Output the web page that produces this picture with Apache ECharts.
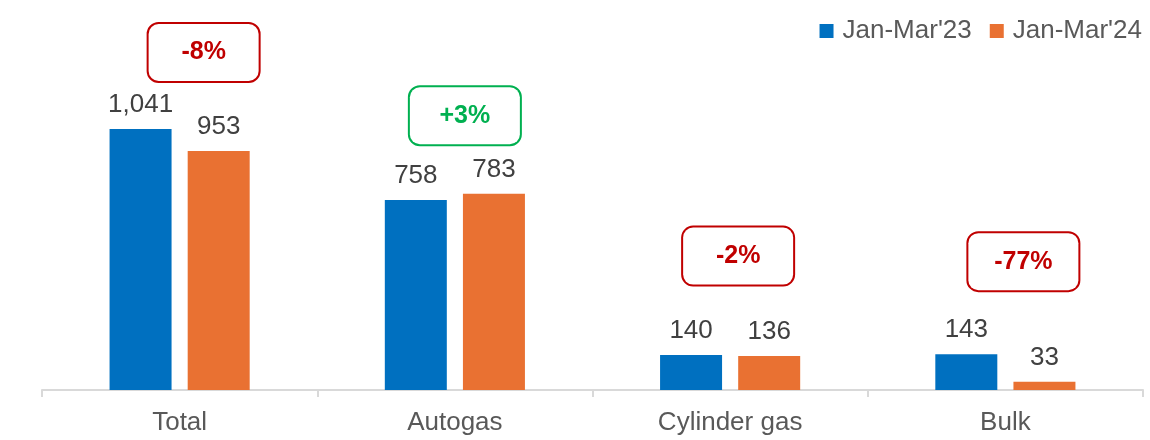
<!DOCTYPE html>
<html>
<head>
<meta charset="utf-8">
<script src="https://cdn.jsdelivr.net/npm/echarts@6/dist/echarts.min.js"></script>
<style>
  html, body { margin: 0; padding: 0; background: #fff; }
  #showChart { width: 1150px; height: 440px; }
</style>
</head>
<body>
<div id="showChart"></div>
<script>
// volumes by segment
var categories = ['Total', 'Autogas', 'Cylinder gas', 'Bulk'];
var jm23 = [1041, 758, 140, 143];
var jm24 = [953, 783, 136, 33];
var changeText = ['-8%', '+3%', '-2%', '-77%'];
var changeUp = [false, true, false, false];

var FONT = '"Liberation Sans", Arial, sans-serif';
var RED = '#C00000';
var GREEN = '#00B050';

// where the change boxes sit (value level, horizontal nudge)
var boxLevel = [1346, 1094, 534, 512];
var boxShift = [24, 10, 8, 18];

function fmt(v) {
    return v.toLocaleString('en-US');
}

var boxData = [];
for (var i = 0; i < categories.length; i++) {
    var c = changeUp[i] ? GREEN : RED;
    boxData.push({
        value: [i, boxLevel[i]],
        label: {
            offset: [boxShift[i], 0],
            color: c,
            borderColor: c
        }
    });
}

var option = {
    animation: false,
    textStyle: { fontFamily: FONT },
    legend: {
        data: ["Jan-Mar'23", "Jan-Mar'24"],
        right: 3,
        top: 13,
        itemWidth: 14,
        itemHeight: 14,
        itemGap: 18,
        icon: 'rect',
        textStyle: { fontSize: 26, color: '#595959', fontFamily: FONT, padding: [0, 0, 0, 4] }
    },
    grid: { left: 42, right: 7, top: 39, bottom: 50 },
    xAxis: {
        type: 'category',
        data: categories,
        axisLine: { lineStyle: { color: '#d9d9d9', width: 2 } },
        axisTick: { show: true, length: 7, lineStyle: { color: '#d9d9d9', width: 2 } },
        axisLabel: { fontSize: 26, color: '#595959', margin: 20, fontFamily: FONT }
    },
    yAxis: {
        type: 'value',
        min: 0,
        max: 1400,
        show: false,
        splitLine: { show: false }
    },
    series: [{
        name: "Jan-Mar'23",
        type: 'bar',
        data: jm23,
        barWidth: 62,
        barGap: '26%',
        itemStyle: { color: '#0070C0' },
        label: {
            show: true,
            position: 'top',
            distance: 11,
            fontSize: 26,
            color: '#404040',
            fontFamily: FONT,
            formatter: function (p) { return fmt(p.value); }
        }
    }, {
        name: "Jan-Mar'24",
        type: 'bar',
        data: jm24,
        barWidth: 62,
        itemStyle: { color: '#E97132' },
        label: {
            show: true,
            position: 'top',
            distance: 11,
            fontSize: 26,
            color: '#404040',
            fontFamily: FONT,
            formatter: function (p) { return fmt(p.value); }
        }
    }, {
        name: 'change',
        type: 'scatter',
        data: boxData,
        symbolSize: 0,
        silent: true,
        clip: false,
        z: 5,
        itemStyle: { opacity: 1 },
        label: {
            show: true,
            position: 'inside',
            formatter: function (p) { return changeText[p.dataIndex]; },
            fontSize: 25,
            fontWeight: 'bold',
            fontFamily: FONT,
            width: 110,
            height: 57,
            lineHeight: 57,
            align: 'center',
            verticalAlign: 'middle',
            borderWidth: 2,
            borderRadius: 10,
            backgroundColor: '#fff',
            textBorderWidth: 0,
            textBorderColor: 'transparent'
        }
    }]
};

//载入图表
var chart = echarts.init(document.getElementById('showChart'));
chart.setOption(option);
</script>
</body>
</html>
